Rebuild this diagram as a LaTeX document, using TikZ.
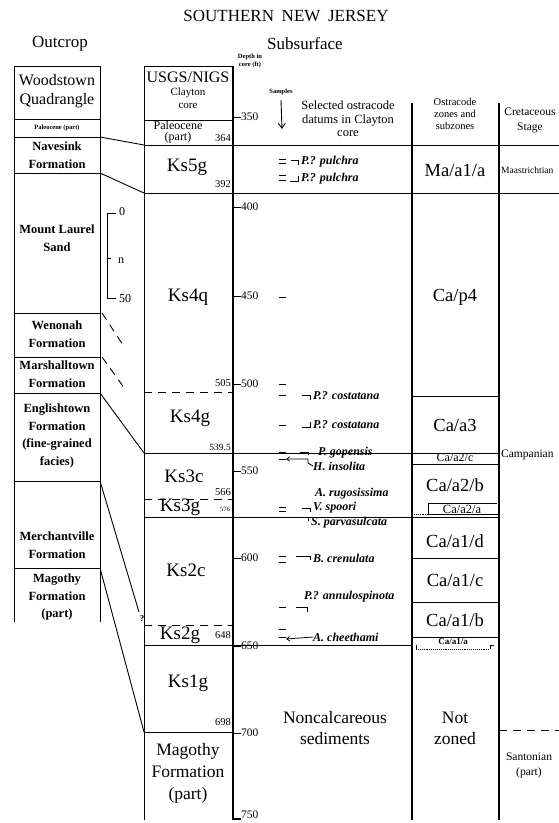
\documentclass[tikz,border=0pt]{standalone}
\usepackage{fontspec}
\setmainfont{Liberation Serif}
\usetikzlibrary{arrows.meta,calc,positioning}

\begin{document}
\begin{tikzpicture}[x=1pt, y=-1pt,
    hdr/.style={font=\fontsize{17}{20}\selectfont, inner sep=0pt},
    unitlbl/.style={font=\fontsize{19}{21}\selectfont, inner sep=0pt},
    fmlbl/.style={font=\bfseries\fontsize{12.5}{17.5}\selectfont, align=center, inner sep=0pt},
    bndlbl/.style={font=\fontsize{10.5}{12}\selectfont, anchor=east, inner sep=0pt},
    ticklbl/.style={font=\fontsize{11.5}{12}\selectfont, anchor=west, inner sep=0pt},
    datum/.style={font=\bfseries\itshape\fontsize{12}{13}\selectfont, anchor=west, inner sep=0pt},
    zonelbl/.style={font=\fontsize{18.5}{21}\selectfont, inner sep=0pt, align=center},
    midtxt/.style={font=\fontsize{12.5}{13.5}\selectfont, align=center, inner sep=0pt},
    tinytxt/.style={font=\bfseries\fontsize{6.5}{8.5}\selectfont, align=center, inner sep=0pt},
    hline/.style={line width=0.9pt},
    dashrule/.style={line width=0.9pt, dash pattern=on 8pt off 6pt},
    smp/.style={line width=0.8pt},
    ptr/.style={{Straight Barb[length=3pt,width=4.5pt]}-, line width=0.8pt}
  ]
  \useasboundingbox (0,0) rectangle (559,823);
  \clip (0,0) rectangle (559,823);

  % 1. Titles
  \node[hdr] (title) at (286,16) {SOUTHERN\hspace{0.45em}NEW\hspace{0.45em}JERSEY};
  \node[hdr] (outcrop) at (60,44) {Outcrop};
  \node[hdr] (subsurface) at (305,44) {Subsurface};

  % 2. Outcrop column
  \draw[hline] (14,622) -- (14,66) -- (100,66) -- (100,622);
  \foreach \yy in {119,137,173,313,357,393,481,568}
    \draw[hline] (14,\yy) -- (100,\yy);
  \node[hdr, font=\fontsize{16}{18.5}\selectfont, align=center] (woodstown) at (57,91) {Woodstown\\Quadrangle};
  \node[tinytxt] (oc-paleo) at (57,128) {Paleocene (part)};
  \node[fmlbl] (oc-navesink) at (57,155) {Navesink\\Formation};
  \node[fmlbl] (oc-laurel) at (57,238) {Mount Laurel\\Sand};
  \node[fmlbl] (oc-wenonah) at (57,334) {Wenonah\\Formation};
  \node[fmlbl] (oc-marshall) at (57,374) {Marshalltown\\Formation};
  \node[fmlbl] (oc-english) at (57,436) {Englishtown\\Formation\\(fine-grained\\facies)};
  \node[fmlbl] (oc-merch) at (57,545) {Merchantville\\Formation};
  \node[fmlbl] (oc-magothy) at (57,597) {Magothy\\Formation\\(part)};

  % thickness bracket, Mount Laurel
  \draw[hline] (116,213) -- (107,213) -- (107,298) -- (116,298);
  \draw[hline] (107,258) -- (111,258);
  \node[ticklbl, font=\fontsize{12}{13}\selectfont] (thk0) at (119,212) {0};
  \node[ticklbl, font=\fontsize{12}{13}\selectfont] (thkn) at (118,261) {n};
  \node[ticklbl, font=\fontsize{12}{13}\selectfont] (thk50) at (119,299) {50};

  % 3. Correlation lines
  \coordinate (oc-b137) at (100,137);
  \coordinate (oc-b173) at (100,173);
  \coordinate (oc-b313) at (102,313);
  \coordinate (oc-b357) at (102,357);
  \coordinate (oc-b393) at (100,393);
  \coordinate (oc-b481) at (100,481);
  \coordinate (oc-b568) at (100,568);
  \coordinate (ss-b364) at (144,145);
  \coordinate (ss-b392) at (144,193);
  \coordinate (ss-end1) at (125,348);
  \coordinate (ss-end2) at (125,389);
  \coordinate (ss-b539) at (144,453);
  \coordinate (ss-q) at (139,612);
  \coordinate (ss-b698) at (144,732);
  \draw[hline] (oc-b137) -- (ss-b364);
  \draw[hline] (oc-b173) -- (ss-b392);
  \draw[dashrule] (oc-b313) -- (ss-end1);
  \draw[dashrule] (oc-b357) -- (ss-end2);
  \draw[hline] (oc-b393) -- (ss-b539);
  \draw[hline] (oc-b481) -- (ss-q);
  \draw[hline] (oc-b568) -- (ss-b698);
  \node[font=\bfseries\fontsize{9}{10}\selectfont, inner sep=0pt] (qmark) at (142,619) {?};

  % 4. USGS/NIGS core column and depth axis
  \draw[hline] (144,820) -- (144,66) -- (233,66);
  \draw[line width=1.8pt] (233,66) -- (233,819) -- (241,819);
  \draw[hline] (144,120) -- (233,120);
  \node[hdr, font=\fontsize{16}{18}\selectfont] (usgs) at (188,77) {USGS/NIGS};
  \node[midtxt, font=\fontsize{11}{13}\selectfont] (clayton) at (188,98) {Clayton\\core};
  \node[tinytxt] (depthhdr) at (250,61) {Depth in\\core (ft)};
  \foreach \d/\yy in {350/117,400/207,450/296,500/384,550/471,600/558,650/646,700/733}{
    \draw[hline] (233,\yy) -- (241,\yy);
    \node[ticklbl] (tick\d) at (241,\yy) {\d};
  }
  \node[ticklbl] (tick750) at (241,815) {750};

  % boundaries
  \draw[hline] (144,145) -- (559,145);
  \draw[hline] (144,193) -- (559,193);
  \draw[hline] (144,453) -- (499,453);
  \draw[hline] (144,517) -- (499,517);
  \draw[hline] (144,645) -- (412,645);
  \draw[hline] (144,732) -- (233,732);
  \foreach \yy in {392,499,625}
    \draw[dashrule] (144,\yy) -- (233,\yy);

  % units
  \node[midtxt, font=\fontsize{12}{11}\selectfont] (ss-paleo) at (178,132) {Paleocene\\(part)};
  \node[bndlbl] (d364) at (231,138) {364};
  \node[unitlbl] (ks5g) at (187,167) {Ks5g};
  \node[bndlbl] (d392) at (231,184) {392};
  \node[unitlbl] (ks4q) at (188,297) {Ks4q};
  \node[bndlbl] (d505) at (231,383) {505};
  \node[unitlbl] (ks4g) at (190,418) {Ks4g};
  \node[bndlbl, font=\fontsize{9.5}{11}\selectfont] (d539) at (231,447) {539.5};
  \node[unitlbl] (ks3c) at (184,476) {Ks3c};
  \node[bndlbl] (d566) at (231,492) {566};
  \node[unitlbl] (ks3g) at (180,507) {Ks3g};
  \node[bndlbl, font=\fontsize{6.5}{8}\selectfont] (d576) at (230,509) {576};
  \node[unitlbl] (ks2c) at (186,570) {Ks2c};
  \node[unitlbl] (ks2g) at (180,635) {Ks2g};
  \node[bndlbl] (d648) at (231,635) {648};
  \node[unitlbl] (ks1g) at (188,683) {Ks1g};
  \node[bndlbl] (d698) at (231,722) {698};
  \node[zonelbl, font=\fontsize{17.5}{22}\selectfont] (ss-magothy) at (188,773) {Magothy\\Formation\\(part)};

  % 5. Ostracode datums
  \node[tinytxt] (smphdr) at (281,92) {Samples};
  \coordinate (smp-end) at (282,129);
  \draw[-{Straight Barb[length=5pt,width=7pt]}, line width=0.9pt] ($(smphdr.south)+(0,5)$) -- (smp-end);
  \node[midtxt] (datumhdr) at (348,119) {Selected ostracode\\datums in Clayton\\core};

  % sample marks
  \foreach \yy in {159,163,175,180,297,384,395,425,452,459,507,511,556,562,607,629,637}
    \draw[smp] (279,\yy) -- (286,\yy);

  \node[datum] (pulchra1) at (301,162) {P.? pulchra};
  \draw[smp] (291,160) -- (298,160) -- (298,165);
  \node[datum] (pulchra2) at (301,179) {P.? pulchra};
  \draw[smp] (290,181) -- (298,181) -- (298,176);
  \node[datum] (costat1) at (313,396) {P.? costatana};
  \draw[smp] (302,395) -- (310,395) -- (310,400);
  \node[datum] (costat2) at (313,425) {P.? costatana};
  \draw[smp] (302,427) -- (310,427) -- (310,422);
  \node[datum] (gopensis) at (318,453) {P. gopensis};
  \draw[smp] (300,452) -- (308,452) -- (308,455);
  \node[datum] (insolita) at (313,466) {H. insolita};
  \coordinate (insol-smp) at (286,459);
  \draw[ptr] (insol-smp) -- (308,459) -- (308,463) -- (insolita.west);
  \node[datum] (rugos) at (315,494) {A. rugosissima};
  \node[datum] (spoori) at (313,508) {V. spoori};
  \draw[smp] (302,508) -- (310,508) -- (310,512);
  \node[datum] (parva) at (311,523) {S. parvasulcata};
  \draw[smp] (308,517) -- (308,521);
  \node[datum] (crenul) at (313,558) {B. crenulata};
  \draw[smp] (296,556) -- (310,556) -- (310,560);
  \node[datum] (annulo) at (304,597) {P.? annulospinota};
  \draw[smp] (296,607) -- (307,607) -- (307,612);
  \node[datum] (cheeth) at (313,637) {A. cheethami};
  \coordinate (cheeth-smp) at (286,639);
  \draw[ptr] (cheeth-smp) -- (cheeth.west);

  \node[zonelbl, font=\fontsize{17.5}{21}\selectfont] (nocalc) at (335,728) {Noncalcareous\\sediments};

  % 6. Ostracode zones and subzones
  \draw[line width=1.2pt] (412,103) -- (412,820);
  \draw[line width=1.2pt] (499,103) -- (499,820);
  \node[midtxt, font=\fontsize{10.5}{12}\selectfont] (zonehdr) at (455,114) {Ostracode\\zones and\\subzones};
  \foreach \yy in {396,558,602,637}
    \draw[hline] (412,\yy) -- (499,\yy);
  \node[zonelbl] (z-ma) at (455,170) {Ma/a1/a};
  \node[zonelbl] (z-p4) at (455,297) {Ca/p4};
  \node[zonelbl] (z-a3) at (455,425) {Ca/a3};
  \node[font=\fontsize{12}{13}\selectfont, inner sep=0pt] (z-a2c) at (455,458) {Ca/a2/c};
  \draw[hline] (412,464) -- (499,464);
  \node[zonelbl] (z-a2b) at (455,485) {Ca/a2/b};
  \node[font=\fontsize{12.5}{13}\selectfont, inner sep=0pt] (z-a2a) at (462,509) {Ca/a2/a};
  \draw[hline] (428,514) -- (428,503) -- (497,503);
  \draw[hline, densely dotted] (412,514) -- (428,514);
  \draw[hline] (428,514) -- (499,514);
  \node[zonelbl] (z-a1d) at (455,541) {Ca/a1/d};
  \node[zonelbl] (z-a1c) at (455,580) {Ca/a1/c};
  \node[zonelbl] (z-a1b) at (455,620) {Ca/a1/b};
  \node[font=\bfseries\fontsize{9}{10}\selectfont, inner sep=0pt] (z-a1a) at (453,642) {Ca/a1/a};
  \draw[hline] (416,645) -- (416,649);
  \draw[hline, densely dotted] (416,649) -- (490,649);
  \draw[hline] (490,649) -- (490,645) -- (494,645);
  \node[zonelbl, font=\fontsize{17.5}{21}\selectfont] (z-none) at (455,728) {Not\\zoned};

  % 7. Cretaceous stage
  \node[midtxt, font=\fontsize{11.5}{15}\selectfont] (stagehdr) at (530,120) {Cretaceous\\Stage};
  \node[font=\fontsize{9.5}{10}\selectfont, anchor=west, inner sep=0pt] (maas) at (501,170) {Maastrichtian};
  \node[font=\fontsize{11.5}{12}\selectfont, anchor=west, inner sep=0pt] (camp) at (501,455) {Campanian};
  \draw[dashrule] (499,730) -- (559,730);
  \node[midtxt, font=\fontsize{11.5}{15}\selectfont] (santon) at (529,765) {Santonian\\(part)};
\end{tikzpicture}
\end{document}
